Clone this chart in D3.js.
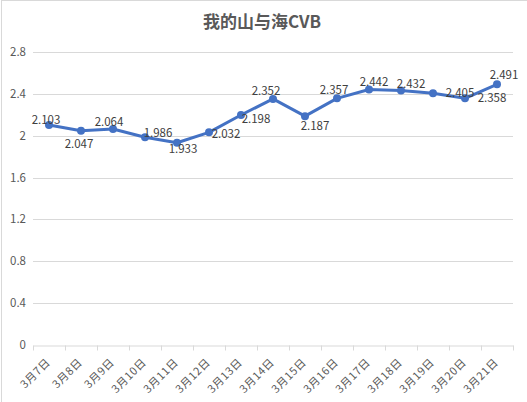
<!DOCTYPE html>
<html>
<head>
<meta charset="utf-8">
<script src="https://cdn.jsdelivr.net/npm/d3@7"></script>
<style>
	body { margin: 0; background: #fff; }
	svg { display: block; font-family: "Noto Sans CJK SC", "Microsoft YaHei", sans-serif; }
</style>
</head>
<body>
<div id="chart"></div>
<script>
const width = 527;
const height = 402;

const TITLE = "我的山与海CVB";
const dates = [
	"3月7日", "3月8日", "3月9日", "3月10日", "3月11日", "3月12日", "3月13日", "3月14日",
	"3月15日", "3月16日", "3月17日", "3月18日", "3月19日", "3月20日", "3月21日",
];
const values = [
	2.103, 2.047, 2.064, 1.986, 1.933, 2.032, 2.198, 2.352,
	2.187, 2.357, 2.442, 2.432, 2.405, 2.358, 2.491,
];
const yTicks = [0, 0.4, 0.8, 1.2, 1.6, 2, 2.4, 2.8];

// where each data label sits relative to its point (excel placed them by hand)
const labelOffset = [
	[-3, -5], [-2, 13], [-4, -7], [13, -4], [6, 6], [17, 2], [15, 4], [-7, -8],
	[10, 10], [-3, -8], [5, -7], [10, -7], [27, 0], [27, 0], [7, -9],
];

const margin = { top: 52, right: 14, bottom: 57, left: 33 };

let svg = d3
	.select("#chart")
	.append("svg")
	.attr("width", width)
	.attr("height", height);

// chart frame
svg.append("rect")
	.attr("x", 1.5)
	.attr("y", 0.5)
	.attr("width", width - 1)
	.attr("height", height)
	.style("fill", "#fff")
	.style("stroke", "#d9d9d9");

svg.append("text")
	.attr("x", 262)
	.attr("y", 28)
	.attr("text-anchor", "middle")
	.attr("font-size", "17px")
	.attr("font-weight", "bold")
	.style("fill", "#595959")
	.text(TITLE);

const x = d3
	.scaleBand()
	.domain(dates)
	.range([margin.left, width - margin.right])
	.padding(0);

const y = d3
	.scaleLinear()
	.domain([0, 2.8])
	.range([height - margin.bottom, margin.top]);

// gridlines
svg.selectAll(".grid")
	.data(yTicks.filter((d) => d > 0))
	.join("line")
	.attr("class", "grid")
	.attr("x1", margin.left)
	.attr("x2", width - margin.right)
	.attr("y1", (d) => Math.round(y(d)) + 0.5)
	.attr("y2", (d) => Math.round(y(d)) + 0.5)
	.style("stroke", "#d9d9d9");

// y labels
svg.selectAll(".ylab")
	.data(yTicks)
	.join("text")
	.attr("class", "ylab")
	.attr("x", 26)
	.attr("y", (d) => y(d) + 4)
	.attr("text-anchor", "end")
	.attr("font-size", "11.5px")
	.style("fill", "#595959")
	.text((d) => d);

// x axis
const xAxis = svg
	.append("g")
	.attr("transform", "translate(0," + (Math.round(y(0)) + 0.5) + ")")
	.call(d3.axisBottom(x).tickSize(0).tickFormat(""));
xAxis.select(".domain").style("stroke", "#d9d9d9");

const bounds = dates.map((d) => x(d)).concat([x.range()[1]]);
xAxis.selectAll(".xtick")
	.data(bounds)
	.join("line")
	.attr("class", "xtick")
	.attr("x1", (d) => Math.round(d) + 0.5)
	.attr("x2", (d) => Math.round(d) + 0.5)
	.attr("y1", 0)
	.attr("y2", 5)
	.style("stroke", "#d9d9d9");

svg.selectAll(".xlab")
	.data(dates)
	.join("text")
	.attr("class", "xlab")
	.attr("text-anchor", "end")
	.attr("font-size", "11px")
	.attr("letter-spacing", "0.6px")
	.style("fill", "#595959")
	.attr("transform", (d) => {
		const cx = x(d) + x.bandwidth() / 2 + 2;
		return "translate(" + cx + "," + (y(0) + 18) + ") rotate(-45)";
	})
	.text((d) => d);

const pts = dates.map((d, i) => ({ d: d, v: values[i], i: i }));
const cx = (p) => x(p.d) + x.bandwidth() / 2;

svg.append("path")
	.datum(pts)
	.attr("d", d3.line().x(cx).y((p) => y(p.v)))
	.style("fill", "none")
	.style("stroke", "#4472C4")
	.style("stroke-width", 3)
	.style("stroke-linejoin", "round");

svg.selectAll(".dot")
	.data(pts)
	.join("circle")
	.attr("class", "dot")
	.attr("cx", cx)
	.attr("cy", (p) => y(p.v))
	.attr("r", 4)
	.style("fill", "#4472C4");

svg.selectAll(".vlab")
	.data(pts)
	.join("text")
	.attr("class", "vlab")
	.attr("x", (p) => cx(p) + labelOffset[p.i][0])
	.attr("y", (p) => y(p.v) + labelOffset[p.i][1] + 4)
	.attr("text-anchor", "middle")
	.attr("font-size", "11.5px")
	.style("fill", "#404040")
	.text((p) => d3.format(".3f")(p.v));
</script>
</body>
</html>
